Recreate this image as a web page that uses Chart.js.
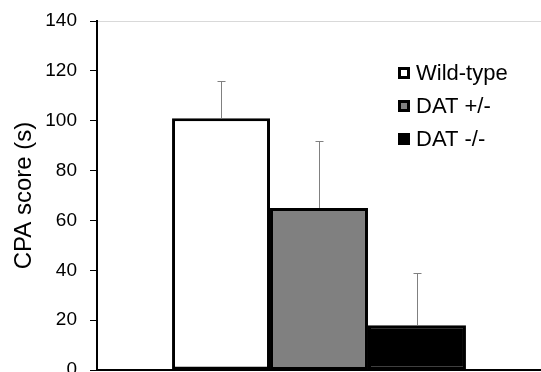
<!DOCTYPE html>
<html lang="en">
  <head>
    <meta charset="utf-8" />
    <title>CPA score</title>
    <script src="https://cdn.jsdelivr.net/npm/chart.js/dist/chart.umd.min.js"></script>
    <style>
      * {
        margin: 0;
        padding: 0;
      }
      body {
        background: #fff;
      }
      .chartBox {
        width: 541px;
        height: 372px;
      }
    </style>
  </head>
  <body>
    <div class="chartBox">
      <canvas id="myChart"></canvas>
    </div>

    <script>
      const groups = ["Wild-type", "DAT +/-", "DAT -/-"];
      const means = [101, 65, 18];
      const errors = [15, 27, 21]; // upper error bar length
      const fills = ["#ffffff", "#808080", "#000000"];
      const yTicks = [0, 20, 40, 60, 80, 100, 120, 140];

      const font = "'Liberation Sans', Arial, sans-serif";

      // upward error bars only
      const errorBarPlugin = {
        id: "errorBars",
        afterDatasetsDraw(chart) {
          const ctx = chart.ctx;
          const y = chart.scales.y;
          ctx.save();
          ctx.strokeStyle = "#808080";
          ctx.lineWidth = 1;
          chart.data.datasets.forEach((ds, i) => {
            const bar = chart.getDatasetMeta(i).data[0];
            const x = Math.round(bar.x) + 0.5;
            const top = Math.round(y.getPixelForValue(ds.data[0] + errors[i])) + 0.5;
            const base = y.getPixelForValue(ds.data[0]);
            ctx.beginPath();
            ctx.moveTo(x, base);
            ctx.lineTo(x, top);
            ctx.moveTo(x - 4, top);
            ctx.lineTo(x + 4, top);
            ctx.stroke();
          });
          ctx.restore();
        },
      };

      // legend drawn inside the plot, top right
      const legendPlugin = {
        id: "boxLegend",
        afterDraw(chart) {
          const ctx = chart.ctx;
          ctx.save();
          ctx.font = "22px " + font;
          ctx.textBaseline = "middle";
          chart.data.datasets.forEach((ds, i) => {
            const cy = 73 + i * 33;
            ctx.fillStyle = ds.backgroundColor;
            ctx.fillRect(398, cy - 6, 12, 12);
            ctx.strokeStyle = "#000";
            ctx.lineWidth = 3;
            ctx.strokeRect(399.5, cy - 4.5, 9, 9);
            ctx.fillStyle = "#000";
            ctx.fillText(ds.label, 416, cy + 1);
          });
          ctx.restore();
        },
      };

      const config = {
        type: "bar",
        data: {
          labels: [""],
          datasets: groups.map((g, i) => ({
            label: g,
            data: [means[i]],
            backgroundColor: fills[i],
            borderColor: "#000",
            borderWidth: 3,
            borderSkipped: false,
          })),
        },
        options: {
          responsive: true,
          maintainAspectRatio: false,
          animation: false,
          categoryPercentage: 0.662,
          barPercentage: 1,
          layout: {
            padding: { top: 21, bottom: 2, right: 0, left: 0 },
          },
          plugins: {
            legend: { display: false },
            tooltip: { enabled: false },
          },
          scales: {
            x: {
              grid: { display: false },
              border: { display: true, color: "#000", width: 2 },
              ticks: { display: false },
              afterFit(scale) {
                scale.height = 0;
                scale.paddingLeft = 0;
                scale.paddingRight = 0;
              },
            },
            y: {
              min: 0,
              max: 140,
              afterBuildTicks(scale) {
                scale.ticks = yTicks.map((v) => ({ value: v }));
              },
              afterFit(scale) {
                scale.width = 97;
                scale.paddingTop = 0;
                scale.paddingBottom = 0;
              },
              border: { display: true, color: "#000", width: 2 },
              grid: {
                drawOnChartArea: true,
                color: (c) => (c.tick && c.tick.value === 140 ? "#d9d9d9" : "rgba(0,0,0,0)"),
                tickColor: "#000",
                tickLength: 7,
                lineWidth: 1,
              },
              ticks: {
                color: "#000",
                font: { family: font, size: 19 },
                padding: 13,
              },
              title: {
                display: true,
                text: "CPA score (s)",
                color: "#000",
                font: { family: font, size: 24 },
                padding: { top: 10, bottom: 4 },
              },
            },
          },
        },
        plugins: [errorBarPlugin, legendPlugin],
      };

      var myChart = new Chart(document.getElementById("myChart"), config);
    </script>
  </body>
</html>
